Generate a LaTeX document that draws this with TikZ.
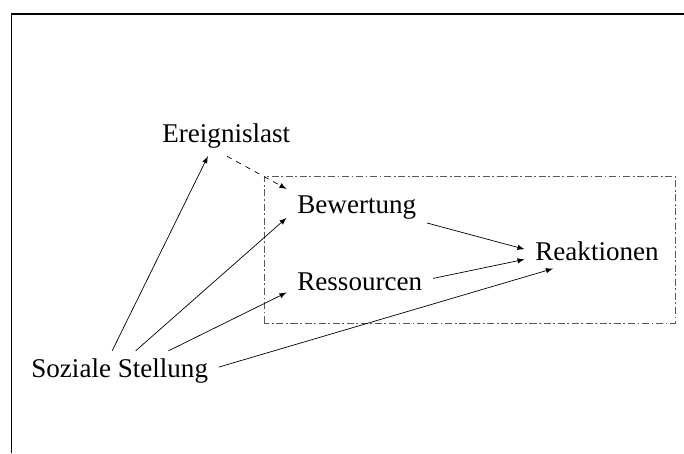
\documentclass[tikz,border=0pt]{standalone}
\usetikzlibrary{positioning}
\usepackage{fontspec}
\setmainfont{Liberation Serif}
\usepackage{xcolor}
\definecolor{boxgray}{gray}{0.35}

\begin{document}
\begin{tikzpicture}[-latex, thin, factor/.style={anchor=base west, inner xsep=6pt, inner ysep=4pt, font=\fontsize{15.4}{18}\selectfont}]
	\useasboundingbox (0,0) rectangle (13.68,9.06);
	\draw[-, line width=1.1pt] (0.23,0) -- (0.23,8.78) -- (13.68,8.78);
	\draw[-, boxgray, dash pattern=on 4pt off 1.5pt on 1pt off 1.5pt] (5.28,2.6) rectangle (13.5,5.54);
	\node[factor] (ereig) at (3.03,6.20) {Ereignislast};
	\node[factor] (bew) at (5.73,4.78) {Bewertung};
	\node[factor] (res) at (5.73,3.24) {Ressourcen};
	\node[factor] (reak) at (10.49,3.84) {Reaktionen};
	\node[factor] (soz) at (0.41,1.52) {Soziale Stellung};
	\draw (soz.111) -- (ereig.227);
	\draw (soz.51) -- (bew.188);
	\draw (soz.22) -- (res.188);
	\draw (soz.2) -- (reak.201);
	\draw[dashed] (ereig.272) -- (bew.north west);
	\draw (bew.348) -- (reak.178);
	\draw (res.3) -- (reak.186);
\end{tikzpicture}
\end{document}
